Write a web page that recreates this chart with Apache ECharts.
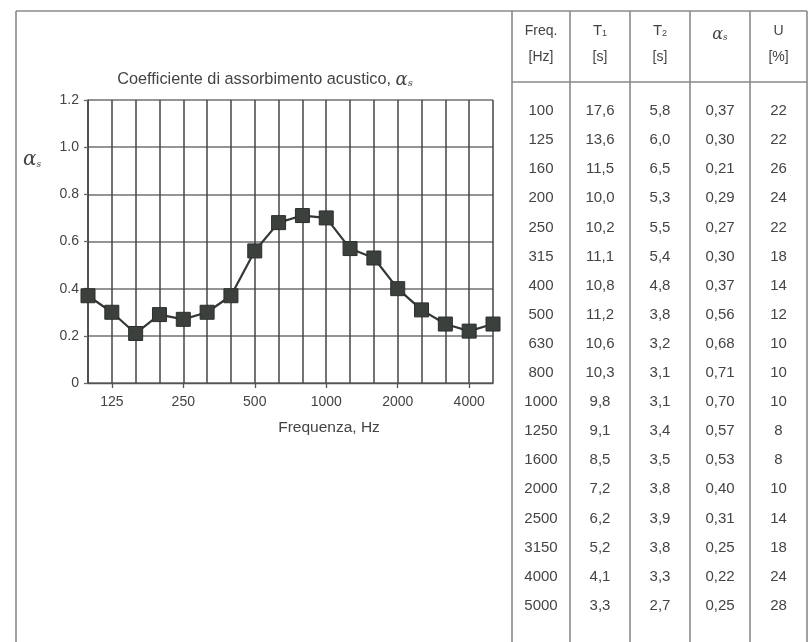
<!DOCTYPE html>
<html>
<head>
<meta charset="utf-8">
<script src="https://cdn.jsdelivr.net/npm/echarts@6/dist/echarts.min.js"></script>
<style>
  html, body { margin: 0; padding: 0; background: #ffffff; }
  #chart { width: 811px; height: 642px; }
</style>
</head>
<body>
<div id="chart"></div>
<script>
// Frequencies of the one-third octave bands [Hz]
const freqs = [100, 125, 160, 200, 250, 315, 400, 500, 630, 800, 1000, 1250, 1600, 2000, 2500, 3150, 4000, 5000];
// Reverberation time, empty room [s]
const t1 = [17.6, 13.6, 11.5, 10.0, 10.2, 11.1, 10.8, 11.2, 10.6, 10.3, 9.8, 9.1, 8.5, 7.2, 6.2, 5.2, 4.1, 3.3];
// Reverberation time, with sample [s]
const t2 = [5.8, 6.0, 6.5, 5.3, 5.5, 5.4, 4.8, 3.8, 3.2, 3.1, 3.1, 3.4, 3.5, 3.8, 3.9, 3.8, 3.3, 2.7];
// Sound absorption coefficient
const alphaS = [0.37, 0.30, 0.21, 0.29, 0.27, 0.30, 0.37, 0.56, 0.68, 0.71, 0.70, 0.57, 0.53, 0.40, 0.31, 0.25, 0.22, 0.25];
// Uncertainty [%]
const uncert = [22, 22, 26, 24, 22, 18, 14, 12, 10, 10, 10, 8, 8, 10, 14, 18, 24, 28];
// Labelled frequencies on the x axis
const xTickLabels = ['125', '250', '500', '1000', '2000', '4000'];
// Y axis tick labels
const yTickLabels = ['0', '0.2', '0.4', '0.6', '0.8', '1.0', '1.2'];

const TXT = '#444444';
const FONT = '"Liberation Sans", Arial, sans-serif';
const SERIF = '"DejaVu Serif", "Liberation Serif", serif';

const chart = echarts.init(document.getElementById('chart'), null, { renderer: 'canvas' });

// ---- table and frame drawn as graphic elements ----
const colX = [512, 570, 630, 690, 750, 807];
const topY = 11, headY = 82, botY = 650;
const rowY0 = 111, rowStep = 29.1;
const lineStyle = { stroke: '#8a8a8a', lineWidth: 1.6 };
const graphics = [];

function vline(x, y1, y2, st) {
  graphics.push({ type: 'line', silent: true, shape: { x1: x, y1: y1, x2: x, y2: y2 }, style: st || lineStyle });
}
function hline(y, x1, x2, st) {
  graphics.push({ type: 'line', silent: true, shape: { x1: x1, y1: y, x2: x2, y2: y }, style: st || lineStyle });
}
function text(x, y, str, opts) {
  graphics.push({
    type: 'text', silent: true, x: x, y: y,
    style: Object.assign({ text: str, fill: TXT, font: '15px ' + FONT, align: 'center', verticalAlign: 'middle' }, opts || {})
  });
}

// outer frame
vline(16, topY, botY);
hline(topY, 16, 807);
// table grid
colX.forEach(x => vline(x, topY, botY));
hline(headY, colX[0], colX[5]);

const richSub = {
  a: { fontSize: 15, fontFamily: FONT, color: TXT },
  sub: { fontSize: 9, fontFamily: FONT, color: TXT, padding: [6, 0, 0, 0] },
  al: { fontSize: 16, fontFamily: SERIF, fontStyle: 'italic', color: TXT },
  als: { fontSize: 9, fontFamily: SERIF, fontStyle: 'italic', color: TXT, padding: [6, 0, 0, 0] }
};

// header
const cx = i => (colX[i] + colX[i + 1]) / 2;
text(cx(0), 31, 'Freq.', { font: '14px ' + FONT });
text(cx(0), 57, '[Hz]', { font: '14px ' + FONT });
text(cx(1), 31, '{a|T}{sub|1}', { rich: richSub });
text(cx(1), 57, '[s]', { font: '14px ' + FONT });
text(cx(2), 31, '{a|T}{sub|2}', { rich: richSub });
text(cx(2), 57, '[s]', { font: '14px ' + FONT });
text(cx(3), 35, '{al|α}{als|s}', { rich: richSub });
text(cx(4), 31, 'U', { font: '14px ' + FONT });
text(cx(4), 57, '[%]', { font: '14px ' + FONT });

// body rows
const comma = (v, d) => v.toFixed(d).replace('.', ',');
freqs.forEach((f, i) => {
  const y = rowY0 + i * rowStep;
  text(cx(0), y, String(f));
  text(cx(1), y, comma(t1[i], 1));
  text(cx(2), y, comma(t2[i], 1));
  text(cx(3), y, comma(alphaS[i], 2));
  text(cx(4), y, String(uncert[i]));
});

// chart title
text(265, 80, '{t|Coefficiente di assorbimento acustico, }{al|α}{als|s}', {
  rich: {
    t: { fontSize: 16.3, fontFamily: FONT, color: TXT },
    al: { fontSize: 18, fontFamily: SERIF, fontStyle: 'italic', color: TXT },
    als: { fontSize: 10, fontFamily: SERIF, fontStyle: 'italic', color: TXT, padding: [7, 0, 0, 0] }
  }
});
// y axis symbol
text(32, 160, '{al|α}{als|s}', {
  rich: {
    al: { fontSize: 20, fontFamily: SERIF, fontStyle: 'italic', color: TXT },
    als: { fontSize: 9, fontFamily: SERIF, fontStyle: 'italic', color: TXT, padding: [10, 0, 0, 0] }
  }
});
// x axis title
text(329, 428, 'Frequenza, Hz', { font: '15.5px ' + FONT });

const labelled = new Set(xTickLabels);
const isLabelled = (idx) => labelled.has(String(freqs[idx]));

chart.setOption({
  animation: false,
  backgroundColor: '#ffffff',
  grid: { left: 88, right: 318, top: 100, bottom: 259, containLabel: false },
  xAxis: {
    type: 'category',
    data: freqs.map(String),
    boundaryGap: false,
    axisLine: { show: true, lineStyle: { color: '#555555', width: 1.4 } },
    axisTick: { show: true, length: 5, interval: isLabelled, lineStyle: { color: '#555555', width: 1.3 } },
    axisLabel: {
      interval: isLabelled, color: TXT, fontFamily: FONT, fontSize: 14, margin: 12
    },
    splitLine: { show: true, interval: 0, lineStyle: { color: '#444444', width: 1.5 } }
  },
  yAxis: {
    type: 'value',
    min: 0, max: 1.2, interval: 0.2,
    axisLine: { show: true, lineStyle: { color: '#444444', width: 1.5 } },
    axisTick: { show: true, length: 4, lineStyle: { color: '#666666', width: 1.3 } },
    axisLabel: {
      color: TXT, fontFamily: FONT, fontSize: 14, margin: 9,
      formatter: v => yTickLabels[Math.round(v / 0.2)]
    },
    splitLine: { show: true, lineStyle: { color: '#707070', width: 1.7 } }
  },
  series: [{
    type: 'line',
    data: alphaS,
    symbol: 'rect',
    symbolSize: 14,
    lineStyle: { color: '#333835', width: 2.2 },
    itemStyle: { color: '#3b403d', borderColor: '#2a2e2c', borderWidth: 1 },
    z: 5
  }],
  graphic: graphics
});
</script>
</body>
</html>
